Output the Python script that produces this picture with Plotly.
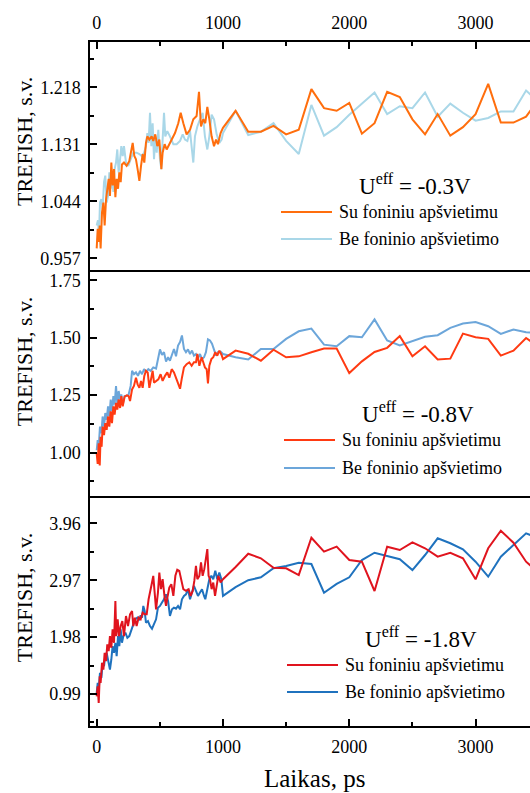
import plotly.graph_objects as go

# ---------------- data ----------------
# sparse time grid after 1000 ps
T_SPARSE = [1100, 1200, 1300, 1400, 1500, 1600, 1700, 1800, 1900, 2000, 2100, 2200, 2300,
            2400, 2500, 2600, 2700, 2800, 2900, 3000, 3100, 3200, 3300, 3400, 3500]

# U_eff = -0.3 V
A_SU_T = [0, 8, 16, 24, 31, 42, 53, 63, 74, 84, 95, 105, 116, 126, 137, 148, 158, 169, 179, 190,
          200, 216, 237, 258, 274, 285, 298, 311, 324, 338, 351, 364, 377, 390, 401, 417, 435, 448,
          464, 480, 496, 512, 522, 538, 554, 575, 594, 620, 646, 665, 686, 712, 739, 765, 791, 810,
          826, 844, 860, 876, 892, 910, 929, 945, 960, 981, 1000]
A_SU_V = [0.972, 1.002, 0.982, 1.007, 0.972, 1.027, 1.042, 1.007, 1.047, 1.063, 1.078, 1.052,
          1.103, 1.068, 1.093, 1.050, 1.078, 1.063, 1.088, 1.073, 1.100, 1.103, 1.098, 1.105,
          1.126, 1.133, 1.113, 1.108, 1.093, 1.075, 1.098, 1.116, 1.103, 1.133, 1.143, 1.138,
          1.143, 1.136, 1.146, 1.128, 1.138, 1.093, 1.118, 1.131, 1.123, 1.131, 1.136, 1.148,
          1.163, 1.179, 1.163, 1.146, 1.153, 1.169, 1.174, 1.211, 1.158, 1.169, 1.163, 1.188,
          1.169, 1.143, 1.128, 1.138, 1.131, 1.148, 1.156]
A_SU_SPARSE = [1.182, 1.150, 1.150, 1.159, 1.146, 1.153, 1.215, 1.186, 1.182, 1.194, 1.147, 1.163,
               1.211, 1.203, 1.169, 1.146, 1.177, 1.144, 1.157, 1.177, 1.223, 1.164, 1.164, 1.173,
               1.200]
A_BE_T = [0, 10, 18, 26, 37, 47, 58, 68, 79, 90, 100, 111, 121, 132, 142, 153, 163, 174, 185, 195,
          206, 216, 232, 250, 269, 290, 316, 338, 356, 375, 390, 401, 411, 422, 433, 443, 454, 464,
          475, 488, 501, 512, 522, 533, 543, 559, 580, 607, 633, 660, 681, 699, 718, 739, 755, 765,
          778, 797, 818, 839, 857, 876, 892, 910, 929, 950, 971, 989, 1000]
A_BE_V = [1.007, 1.015, 0.992, 1.042, 1.047, 1.032, 1.073, 1.083, 1.042, 1.052, 1.088, 1.063,
          1.083, 1.058, 1.093, 1.103, 1.123, 1.088, 1.108, 1.128, 1.113, 1.128, 1.103, 1.098,
          1.108, 1.118, 1.118, 1.116, 1.113, 1.118, 1.128, 1.148, 1.133, 1.179, 1.128, 1.163,
          1.108, 1.143, 1.118, 1.153, 1.108, 1.093, 1.138, 1.179, 1.143, 1.151, 1.143, 1.131,
          1.131, 1.136, 1.146, 1.138, 1.136, 1.151, 1.121, 1.103, 1.143, 1.158, 1.169, 1.179,
          1.143, 1.123, 1.143, 1.176, 1.169, 1.146, 1.133, 1.138, 1.148]
A_BE_SPARSE = [1.182, 1.145, 1.150, 1.163, 1.136, 1.116, 1.191, 1.144, 1.157, 1.176, 1.193, 1.210,
               1.177, 1.189, 1.186, 1.210, 1.173, 1.193, 1.179, 1.167, 1.171, 1.181, 1.181, 1.213,
               1.195]

# U_eff = -0.8 V
B_SU_T = [0, 8, 16, 24, 31, 39, 47, 58, 68, 79, 90, 100, 111, 121, 132, 142, 153, 163, 174, 185,
          195, 206, 221, 237, 253, 264, 280, 295, 311, 324, 338, 351, 364, 377, 390, 404, 417, 430,
          443, 454, 470, 488, 506, 522, 541, 559, 575, 594, 612, 628, 644, 660, 675, 691, 712, 733,
          752, 770, 786, 797, 813, 831, 844, 857, 871, 881, 892, 908, 923, 939, 955, 971, 989, 1000]
B_SU_V = [0.996, 0.951, 1.040, 0.944, 1.069, 1.025, 1.113, 1.076, 1.128, 1.099, 1.157, 1.113,
          1.179, 1.128, 1.201, 1.165, 1.216, 1.187, 1.231, 1.194, 1.246, 1.201, 1.243, 1.249,
          1.246, 1.224, 1.275, 1.290, 1.326, 1.297, 1.282, 1.312, 1.282, 1.334, 1.356, 1.349,
          1.282, 1.326, 1.356, 1.304, 1.312, 1.319, 1.341, 1.312, 1.334, 1.349, 1.326, 1.363,
          1.349, 1.326, 1.304, 1.278, 1.326, 1.371, 1.385, 1.393, 1.378, 1.393, 1.393, 1.429,
          1.378, 1.415, 1.393, 1.371, 1.363, 1.301, 1.378, 1.407, 1.415, 1.437, 1.422, 1.444,
          1.425, 1.407]
B_SU_SPARSE = [1.444, 1.430, 1.400, 1.448, 1.415, 1.419, 1.437, 1.453, 1.453, 1.346, 1.397, 1.438,
               1.456, 1.507, 1.419, 1.463, 1.405, 1.409, 1.518, 1.502, 1.495, 1.422, 1.444, 1.499,
               1.460]
B_BE_T = [0, 8, 16, 26, 37, 47, 58, 68, 79, 90, 100, 111, 121, 132, 142, 153, 163, 174, 185, 195,
          206, 221, 237, 253, 269, 280, 295, 311, 327, 343, 359, 375, 390, 409, 427, 448, 470, 485,
          501, 517, 533, 549, 565, 580, 596, 612, 628, 644, 660, 675, 691, 707, 723, 739, 755, 770,
          786, 802, 818, 834, 850, 865, 881, 897, 913, 929, 945, 960, 981, 1000]
B_BE_V = [1.010, 1.054, 1.025, 1.113, 1.084, 1.157, 1.113, 1.172, 1.143, 1.201, 1.157, 1.231,
          1.179, 1.246, 1.209, 1.290, 1.216, 1.268, 1.231, 1.253, 1.209, 1.246, 1.246, 1.253,
          1.290, 1.356, 1.341, 1.349, 1.334, 1.356, 1.341, 1.363, 1.351, 1.363, 1.356, 1.371,
          1.366, 1.400, 1.449, 1.425, 1.437, 1.396, 1.415, 1.400, 1.422, 1.451, 1.419, 1.466,
          1.481, 1.510, 1.451, 1.437, 1.449, 1.429, 1.444, 1.422, 1.429, 1.410, 1.429, 1.407,
          1.415, 1.437, 1.493, 1.488, 1.474, 1.451, 1.422, 1.437, 1.440, 1.429]
B_BE_SPARSE = [1.415, 1.405, 1.451, 1.451, 1.495, 1.528, 1.540, 1.470, 1.463, 1.507, 1.502, 1.580,
               1.488, 1.466, 1.485, 1.504, 1.511, 1.543, 1.562, 1.568, 1.550, 1.517, 1.536, 1.524,
               1.520]

# U_eff = -1.8 V
C_SU_T = [0, 8, 16, 24, 31, 42, 53, 63, 74, 84, 95, 105, 116, 126, 137, 148, 155, 166, 177, 190,
          203, 216, 232, 248, 264, 280, 290, 303, 316, 332, 348, 364, 380, 396, 411, 422, 438, 448,
          459, 470, 485, 496, 509, 522, 538, 549, 562, 575, 591, 607, 623, 638, 654, 670, 686, 707,
          728, 744, 760, 773, 786, 797, 813, 826, 839, 852, 865, 876, 886, 897, 910, 923, 937, 950,
          963, 981, 1000]
C_SU_V = [0.949, 1.124, 0.833, 1.299, 1.182, 1.532, 1.415, 1.706, 1.561, 1.852, 1.735, 1.997,
          1.794, 2.114, 1.881, 2.609, 1.997, 2.289, 1.997, 2.172, 2.259, 1.997, 2.347, 2.172,
          2.376, 2.434, 2.172, 2.318, 2.172, 2.318, 2.289, 2.405, 2.376, 2.376, 2.638, 2.784,
          2.929, 3.046, 2.813, 2.463, 2.755, 3.104, 2.813, 2.987, 2.667, 2.522, 2.696, 2.842,
          2.900, 2.696, 3.046, 3.151, 3.133, 2.987, 2.813, 2.784, 2.813, 2.696, 2.784, 2.958,
          3.220, 2.987, 3.046, 3.279, 3.046, 3.162, 3.395, 3.512, 3.046, 2.987, 2.813, 2.929,
          2.696, 2.871, 3.046, 2.929, 2.987]
C_SU_SPARSE = [3.200, 3.430, 3.351, 3.187, 3.177, 3.060, 3.709, 3.466, 3.553, 3.321, 3.292, 2.782,
               3.553, 3.495, 3.629, 3.525, 3.379, 3.448, 3.351, 2.985, 3.525, 3.831, 3.622, 3.292,
               3.100]
C_BE_T = [0, 8, 16, 26, 37, 47, 58, 68, 79, 92, 105, 116, 126, 137, 148, 158, 169, 179, 190, 200,
          211, 227, 243, 258, 274, 290, 306, 322, 338, 348, 359, 369, 380, 390, 406, 422, 438, 454,
          470, 485, 501, 517, 533, 549, 565, 580, 596, 612, 628, 644, 660, 675, 691, 707, 723, 739,
          755, 770, 786, 802, 818, 834, 850, 860, 876, 892, 908, 923, 939, 955, 971, 987, 1000]
C_BE_V = [1.007, 1.182, 1.066, 1.357, 1.270, 1.532, 1.473, 1.648, 1.706, 1.532, 1.415, 1.590,
          1.823, 1.706, 1.881, 1.648, 1.997, 1.823, 2.114, 1.881, 1.997, 2.056, 1.968, 1.997,
          2.114, 2.201, 2.289, 2.318, 2.289, 2.359, 2.318, 2.522, 2.434, 2.230, 2.259, 2.172,
          2.125, 2.201, 2.289, 2.492, 2.522, 2.580, 2.638, 2.725, 2.609, 2.347, 2.463, 2.492,
          2.475, 2.522, 2.463, 2.638, 2.696, 2.725, 2.813, 2.638, 2.755, 2.871, 2.784, 2.696,
          2.755, 2.813, 2.696, 2.638, 2.813, 2.987, 3.046, 2.987, 3.133, 2.987, 3.104, 2.987,
          2.696]
C_BE_SPARSE = [2.850, 2.970, 3.020, 3.177, 3.217, 3.274, 3.252, 2.752, 2.904, 3.020, 3.321, 3.448,
               3.391, 3.334, 3.147, 3.408, 3.699, 3.612, 3.508, 3.292, 3.031, 3.379, 3.582, 3.786,
               3.700]

NAME_SU = "Su foniniu apšvietimu"
NAME_BE = "Be foninio apšvietimo"
LABELS_U = ["U<sup>eff</sup> = -0.3V", "U<sup>eff</sup> = -0.8V", "U<sup>eff</sup> = -1.8V"]
Y_TITLE = "TREFISH, s.v."
X_TITLE = "Laikas, ps"

# ---------------- styling ----------------
FONT = "Liberation Serif, Times New Roman, serif"
W, H = 530, 793
ML, MT, MB = 90, 42, 67
PW = W - ML
PH = H - MT - MB
X_RANGE = [-53, 3431]


def px_x(px):
    return (px - ML) / PW


def px_y(py):
    return (H - MB - py) / PH


panels = [
    dict(xa="x3", ya="y3", dom=[2 / 3, 1], rng=[0.939, 1.287], dtick=0.087, tick0=0.957, fmt=".3f",
         su=(A_SU_T, A_SU_V, A_SU_SPARSE), be=(A_BE_T, A_BE_V, A_BE_SPARSE),
         c_su="#FF6E0D", c_be="#A9D7E8", label=LABELS_U[0],
         ulab=(414.5, 184), lx=(281, 332), ly=(212, 239), tx=337, ytitle=141.5),
    dict(xa="x2", ya="y2", dom=[1 / 3, 2 / 3], rng=[0.802, 1.795], dtick=0.25, tick0=1.0, fmt=".2f",
         su=(B_SU_T, B_SU_V, B_SU_SPARSE), be=(B_BE_T, B_BE_V, B_BE_SPARSE),
         c_su="#FF3A12", c_be="#6CA6DA", label=LABELS_U[1],
         ulab=(418, 412), lx=(284, 335), ly=(440, 468), tx=340, ytitle=361.7),
    dict(xa="x", ya="y", dom=[0, 1 / 3], rng=[0.433, 4.40], dtick=0.99, tick0=0.99, fmt=".2f",
         su=(C_SU_T, C_SU_V, C_SU_SPARSE), be=(C_BE_T, C_BE_V, C_BE_SPARSE),
         c_su="#E0141E", c_be="#1F72BE", label=LABELS_U[2],
         ulab=(421, 637), lx=(287, 338), ly=(665, 692), tx=343, ytitle=597.7),
]

fig = go.Figure()
shapes = []
annotations = []

for p in panels:
    for key, col in (("be", p["c_be"]), ("su", p["c_su"])):
        t_dense, v_dense, v_sparse = p[key]
        fig.add_trace(go.Scatter(
            x=list(t_dense) + T_SPARSE,
            y=list(v_dense) + list(v_sparse),
            mode="lines",
            line=dict(color=col, width=2),
            name=NAME_SU if key == "su" else NAME_BE,
            xaxis=p["xa"], yaxis=p["ya"],
            showlegend=False,
        ))

    # in-panel legend
    for yy, col, name in ((p["ly"][0], p["c_su"], NAME_SU), (p["ly"][1], p["c_be"], NAME_BE)):
        shapes.append(dict(type="line", xref="paper", yref="paper",
                           x0=px_x(p["lx"][0]), x1=px_x(p["lx"][1]),
                           y0=px_y(yy), y1=px_y(yy),
                           line=dict(color=col, width=2)))
        annotations.append(dict(text=name, xref="paper", yref="paper",
                                x=px_x(p["tx"]), y=px_y(yy), xanchor="left", yanchor="middle",
                                showarrow=False, font=dict(family=FONT, size=18, color="black")))
    annotations.append(dict(text=p["label"], xref="paper", yref="paper",
                            x=px_x(p["ulab"][0]), y=px_y(p["ulab"][1]),
                            xanchor="center", yanchor="middle", showarrow=False,
                            font=dict(family=FONT, size=23, color="black")))
    annotations.append(dict(text=Y_TITLE, xref="paper", yref="paper",
                            x=px_x(24.5), y=px_y(p["ytitle"]), xanchor="center", yanchor="middle",
                            textangle=-90, showarrow=False,
                            font=dict(family=FONT, size=22, color="black")))

annotations.append(dict(text=X_TITLE, xref="paper", yref="paper",
                        x=px_x(314), y=px_y(778), xanchor="center", yanchor="middle",
                        showarrow=False, font=dict(family=FONT, size=25, color="black")))

tickfont = dict(family=FONT, size=18, color="black")
base_x = dict(range=X_RANGE, showgrid=False, zeroline=False, showline=True, linecolor="black",
              linewidth=1.5, mirror=True, tickfont=tickfont)
minor_x = dict(ticks="inside", dtick=500, ticklen=4, tickwidth=1.5, tickcolor="black")

layout = dict(
    width=W, height=H,
    margin=dict(l=ML, r=0, t=MT, b=MB),
    paper_bgcolor="white", plot_bgcolor="white",
    shapes=shapes, annotations=annotations,
    # bottom panel: ticks and labels along the bottom edge, frame line on top edge
    xaxis=dict(base_x, anchor="y", ticks="inside", ticklen=7, tickwidth=1.5, tickcolor="black",
               tick0=0, dtick=1000, ticklabelstandoff=4, minor=minor_x),
    # middle panel: its edges are drawn by the neighbouring panels' frame lines
    xaxis2=dict(base_x, anchor="y2", matches="x", ticks="", showticklabels=False,
                showline=False, mirror=False),
    # top panel: ticks and labels along the top edge
    xaxis3=dict(base_x, anchor="y3", matches="x", side="top", ticks="inside", ticklen=7,
                tickwidth=1.5, tickcolor="black", tick0=0, dtick=1000, ticklabelstandoff=4,
                minor=minor_x),
)

for p in panels:
    key = "yaxis" + p["ya"][1:]
    layout[key] = dict(domain=p["dom"], anchor=p["xa"], range=p["rng"], showgrid=False,
                       zeroline=False, showline=True, linecolor="black", linewidth=1.5,
                       mirror=False, ticks="inside", ticklen=7, tickwidth=1.5, tickcolor="black",
                       tick0=p["tick0"], dtick=p["dtick"], tickformat=p["fmt"],
                       tickfont=tickfont, ticklabelstandoff=4,
                       minor=dict(ticks="inside", dtick=p["dtick"] / 2, ticklen=4, tickwidth=1.5,
                                  tickcolor="black"))

fig.update_layout(**layout)
fig.write_html("out.html")
